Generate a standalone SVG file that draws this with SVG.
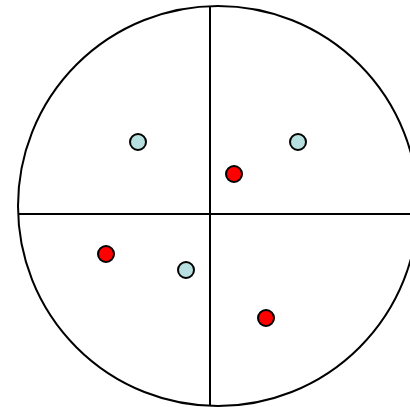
<svg xmlns="http://www.w3.org/2000/svg" width="410" height="407" viewBox="0 0 410 407">
<style>
.ln{stroke:#000;stroke-width:2;fill:none}
.dot{stroke:#000;stroke-width:2}
.blue{fill:#b8e0e0}
.red{fill:#ff0000}
</style>
<rect width="410" height="407" fill="#fff"/>
<g id="boundary">
<circle class="ln" cx="218" cy="206" r="200"/>
</g>
<g id="connectors">
<line class="ln" x1="210" y1="6" x2="210" y2="406"/>
<line class="ln" x1="18" y1="214" x2="410" y2="214"/>
</g>
<g id="p1"><circle class="dot blue" cx="138" cy="142" r="8"/></g>
<g id="p2"><circle class="dot blue" cx="298" cy="142" r="8"/></g>
<g id="p3"><circle class="dot blue" cx="186" cy="270" r="8"/></g>
<g id="p4"><circle class="dot red" cx="234" cy="174" r="8"/></g>
<g id="p5"><circle class="dot red" cx="106" cy="254" r="8"/></g>
<g id="p6"><circle class="dot red" cx="266" cy="318" r="8"/></g>
</svg>
